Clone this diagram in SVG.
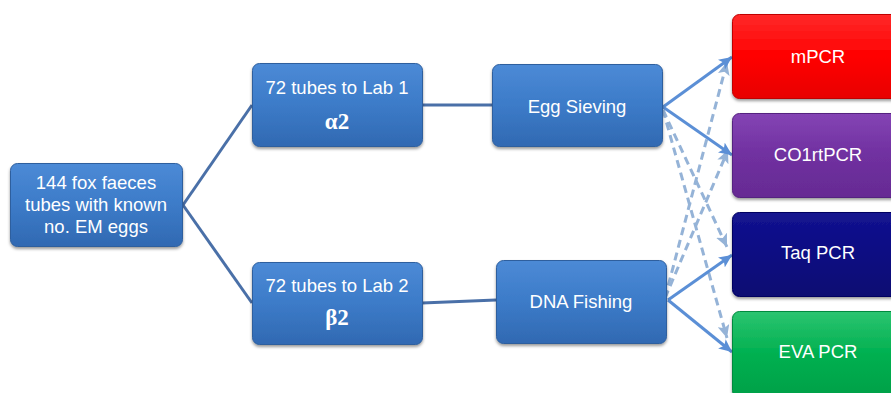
<svg xmlns="http://www.w3.org/2000/svg" width="891" height="393" viewBox="0 0 891 393">
<defs>
<linearGradient id="gBlue" x1="0" y1="0" x2="0" y2="1"><stop offset="0" stop-color="#4c8ad6"/><stop offset="0.5" stop-color="#3c7bc8"/><stop offset="1" stop-color="#3169b2"/></linearGradient>
<linearGradient id="gRed" x1="0" y1="0" x2="0" y2="1"><stop offset="0" stop-color="#ff2a2a"/><stop offset="0.5" stop-color="#ff0000"/><stop offset="1" stop-color="#e80000"/></linearGradient>
<linearGradient id="gPurple" x1="0" y1="0" x2="0" y2="1"><stop offset="0" stop-color="#8444b4"/><stop offset="0.5" stop-color="#7030a0"/><stop offset="1" stop-color="#662b93"/></linearGradient>
<linearGradient id="gNavy" x1="0" y1="0" x2="0" y2="1"><stop offset="0" stop-color="#141490"/><stop offset="0.5" stop-color="#0a0a82"/><stop offset="1" stop-color="#070772"/></linearGradient>
<linearGradient id="gGreen" x1="0" y1="0" x2="0" y2="1"><stop offset="0" stop-color="#2cc470"/><stop offset="0.5" stop-color="#00b050"/><stop offset="1" stop-color="#00a048"/></linearGradient>
<filter id="sh" x="-10%" y="-10%" width="125%" height="130%"><feDropShadow dx="0" dy="2" stdDeviation="1.6" flood-color="#000" flood-opacity="0.4"/></filter>
<marker id="aSolid" markerUnits="userSpaceOnUse" markerWidth="14" markerHeight="12" refX="13" refY="6" orient="auto"><path d="M0,0 L13,6 L0,12 L3,6 Z" fill="#5b8fd6"/></marker>
<marker id="aDash" markerUnits="userSpaceOnUse" markerWidth="14" markerHeight="12" refX="13" refY="6" orient="auto"><path d="M0,0 L13,6 L0,12 L3,6 Z" fill="#95b3d7"/></marker>
</defs>
<style>
.box{filter:url(#sh);stroke-width:1}
.blue{fill:url(#gBlue);stroke:#2e5f9e}
.t{font-family:"Liberation Sans",Arial,sans-serif;font-size:18.5px;fill:#fff;text-anchor:middle}
.g{font-family:"Liberation Serif","Times New Roman",serif;font-size:23px;font-weight:bold;fill:#fff;text-anchor:middle}
.link{stroke:#4a70a8;stroke-width:3;fill:none}
.sol{stroke:#5b8fd6;stroke-width:3;fill:none;marker-end:url(#aSolid)}
.dash{stroke:#95b3d7;stroke-width:3;fill:none;stroke-dasharray:8 5;marker-end:url(#aDash)}
</style>
<rect width="891" height="393" fill="#fff"/>
<g id="connectors">
<line class="link" x1="183" y1="205" x2="252" y2="105"/>
<line class="link" x1="183" y1="205" x2="252" y2="303"/>
<line class="link" x1="423" y1="105" x2="492" y2="105"/>
<line class="link" x1="422" y1="303" x2="496" y2="300"/>
<line class="dash" x1="663" y1="110" x2="727" y2="247"/>
<line class="dash" x1="663" y1="110" x2="727" y2="338"/>
<line class="dash" x1="665" y1="298" x2="727" y2="62"/>
<line class="dash" x1="665" y1="298" x2="728" y2="150"/>
<line class="sol" x1="663" y1="107" x2="732" y2="57"/>
<line class="sol" x1="663" y1="107" x2="732" y2="155"/>
<line class="sol" x1="668" y1="300" x2="732" y2="255"/>
<line class="sol" x1="668" y1="300" x2="732" y2="352"/>
</g>
<g id="n-faeces">
<rect class="box blue" x="10.5" y="163.5" width="172" height="83" rx="7"/>
<text class="t" x="96" y="189">144 fox faeces</text>
<text class="t" x="96" y="211">tubes with known</text>
<text class="t" x="96" y="233">no. EM eggs</text>
</g>
<g id="n-lab1">
<rect class="box blue" x="252.5" y="63.5" width="170" height="83" rx="7"/>
<text class="t" x="337" y="94">72 tubes to Lab 1</text>
<text class="g" x="337" y="129">α2</text>
</g>
<g id="n-lab2">
<rect class="box blue" x="252.5" y="262.5" width="170" height="82" rx="7"/>
<text class="t" x="337" y="292">72 tubes to Lab 2</text>
<text class="g" x="337" y="325">β2</text>
</g>
<g id="n-egg">
<rect class="box blue" x="492.5" y="64.5" width="170" height="82" rx="7"/>
<text class="t" x="577" y="113">Egg Sieving</text>
</g>
<g id="n-dna">
<rect class="box blue" x="496.5" y="260.5" width="170" height="83" rx="7"/>
<text class="t" x="581" y="308">DNA Fishing</text>
</g>
<g id="n-mpcr">
<rect class="box" x="732.5" y="14.5" width="172" height="84" rx="7" fill="url(#gRed)" stroke="#c00000"/>
<text class="t" x="818" y="63">mPCR</text>
</g>
<g id="n-co1">
<rect class="box" x="732.5" y="113.5" width="172" height="84" rx="7" fill="url(#gPurple)" stroke="#552080"/>
<text class="t" x="818" y="161">CO1rtPCR</text>
</g>
<g id="n-taq">
<rect class="box" x="732.5" y="212.5" width="172" height="84" rx="7" fill="url(#gNavy)" stroke="#050560"/>
<text class="t" x="818" y="259">Taq PCR</text>
</g>
<g id="n-eva">
<rect class="box" x="732.5" y="311.5" width="172" height="86" rx="7" fill="url(#gGreen)" stroke="#008a3e"/>
<text class="t" x="818" y="358">EVA PCR</text>
</g>
</svg>
